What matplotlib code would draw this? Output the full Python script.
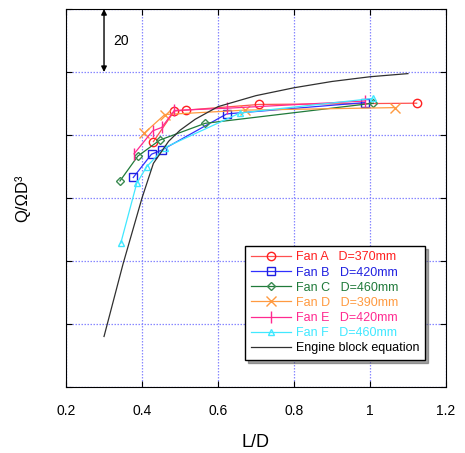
import matplotlib
matplotlib.use("Agg")
import matplotlib.pyplot as plt

plt.rcParams['font.family'] = ['Liberation Sans', 'DejaVu Sans']

# measured points, L/D vs Q/(Omega D^3)
xa = [0.430, 0.485, 0.515, 0.708, 1.123]
ya = [77.9, 87.6, 87.9, 89.7, 90.1]
xb = [0.377, 0.425, 0.452, 0.623, 0.987]
yb = [66.5, 73.9, 75.2, 86.7, 90.3]
xc = [0.342, 0.389, 0.447, 0.566, 1.009]
yc = [65.4, 73.3, 78.4, 83.7, 90.1]
xd = [0.405, 0.460, 0.671, 1.066]
yd = [80.5, 86.5, 87.9, 88.7]
xe = [0.379, 0.428, 0.452, 0.485, 0.623, 0.987]
ye = [74.0, 81.3, 82.4, 87.8, 88.5, 90.8]
xf = [0.344, 0.386, 0.412, 0.460, 0.658, 1.008]
yf = [45.6, 64.6, 69.9, 76.0, 87.0, 91.6]

# engine block equation curve
xeng = [0.30, 0.35, 0.40, 0.43, 0.47, 0.50, 0.54, 0.60, 0.70, 0.80, 0.90, 1.00, 1.10]
yeng = [16.0, 39.0, 60.0, 71.0, 78.0, 81.5, 85.0, 89.0, 92.5, 95.0, 97.0, 98.5, 99.5]

fig = plt.figure(figsize=(4.65, 4.53), dpi=100)
ax = fig.add_axes([0.142, 0.146, 0.817, 0.834])

ax.plot(xa, ya, color='#ff5050', lw=0.9, marker='o', ms=6, mfc='none', mec='#ff2020', label="Fan A   D=370mm")
ax.plot(xb, yb, color='#3030ff', lw=0.9, marker='s', ms=6, mfc='none', mec='#2020e0', label="Fan B   D=420mm")
ax.plot(xc, yc, color='#207a3a', lw=0.9, marker='D', ms=4.5, mfc='none', mec='#3a8a50', label="Fan C   D=460mm")
ax.plot(xd, yd, color='#ff9a40', lw=0.9, marker='x', ms=7, mec='#ff9a40', label="Fan D   D=390mm")
ax.plot(xe, ye, color='#ff2a90', lw=0.9, marker='|', ms=8, mec='#ff2a90', label="Fan E   D=420mm")
ax.plot(xf, yf, color='#40e8ff', lw=0.9, marker='^', ms=5, mfc='none', mec='#40e8ff', label="Fan F   D=460mm")
ax.plot(xeng, yeng, color='#303030', lw=0.9, label="Engine block equation")

ax.set_xlim(0.2, 1.2)
ax.set_ylim(0, 120)
ax.set_xticks([0.2, 0.4, 0.6, 0.8, 1.0, 1.2])
ax.set_xticklabels(['0.2', '0.4', '0.6', '0.8', '1', '1.2'])
ax.set_yticks([0, 20, 40, 60, 80, 100, 120])
ax.set_yticklabels([])
ax.tick_params(direction='in', top=True, right=True, length=4, labelsize=10, pad=12)
ax.grid(True, color='#8888ff', linestyle=(0, (1.2, 1.2)), lw=0.9)

ax.set_xlabel("L/D", fontsize=13, labelpad=12)
ax.set_ylabel("Q/ΩD³", fontsize=12, labelpad=14)

ax.annotate('', xy=(0.30, 120), xytext=(0.30, 100),
            arrowprops=dict(arrowstyle='<|-|>', color='black', lw=1, mutation_scale=8, shrinkA=0, shrinkB=0))
ax.text(0.325, 110, "20", fontsize=10, va='center', ha='left')

leg = ax.legend(loc='lower left', bbox_to_anchor=(0.455, 0.055), fontsize=9, frameon=True,
                fancybox=False, shadow=True, edgecolor='black', borderpad=0.45,
                labelspacing=0.25, handlelength=3.2, handletextpad=0.4)
leg.get_frame().set_linewidth(1)
leg_colors = ['#ff2020', '#2020e0', '#207a3a', '#ff9a40', '#ff2a90', '#40e8ff', 'black']
for t, c in zip(leg.get_texts(), leg_colors):
    t.set_color(c)

fig.savefig("out.png", dpi=100)
